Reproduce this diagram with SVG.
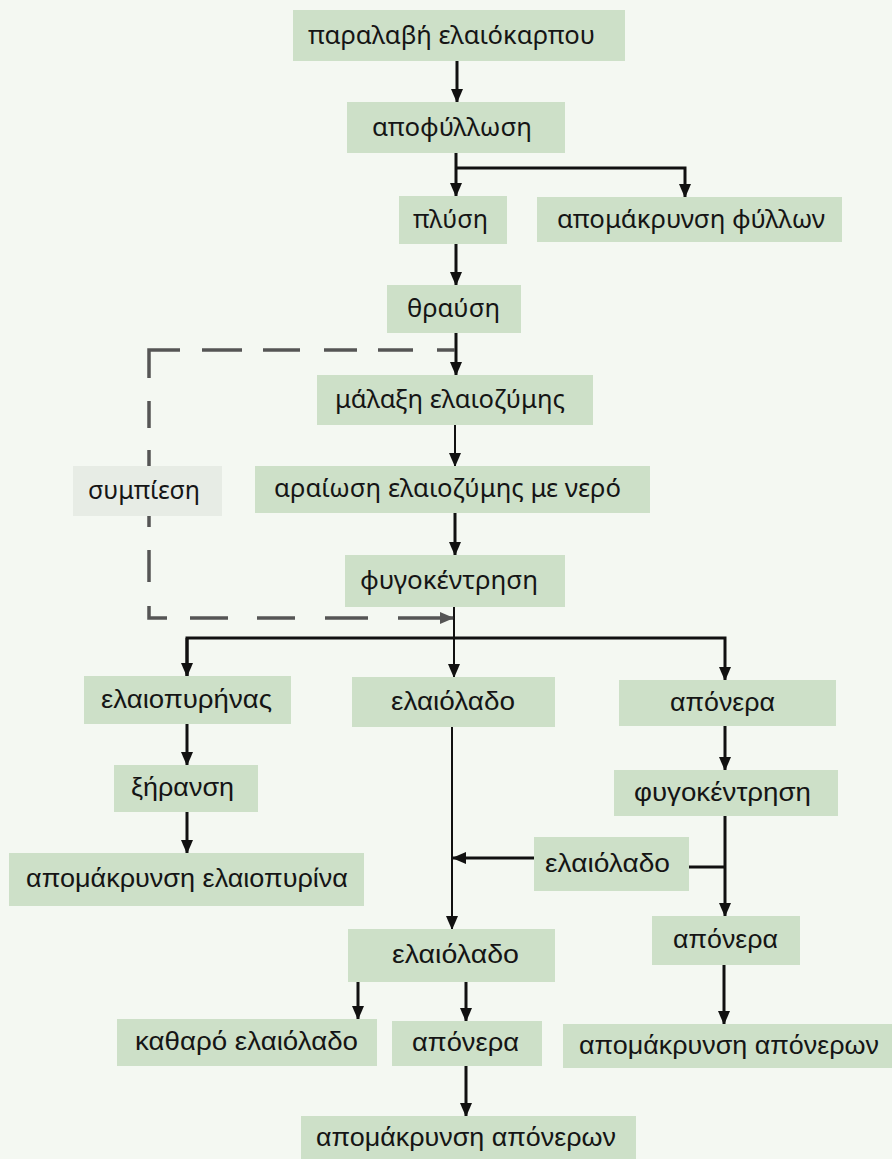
<svg xmlns="http://www.w3.org/2000/svg" width="892" height="1159" viewBox="0 0 892 1159">
<style>
.bg{fill:#f4f8f2}
.box{fill:#cde0c8}
.box2{fill:#e7ece5}
.t{font-family:"Noto Sans","Open Sans",sans-serif;font-size:25px;fill:#151515;text-anchor:middle}
.c{font-family:"Liberation Sans","Arial",sans-serif;font-size:26px;fill:#151515;text-anchor:middle}
.ln{stroke:#111;stroke-width:3;fill:none}
.thin{stroke:#111;stroke-width:2;fill:none}
.dash{stroke:#555;stroke-width:3.5;fill:none}
</style>
<defs>
<marker id="ah" markerUnits="userSpaceOnUse" markerWidth="14" markerHeight="12" refX="13" refY="6" orient="auto">
<path d="M0,0 L14,6 L0,12 z" fill="#111"/>
</marker>
<marker id="ahg" markerUnits="userSpaceOnUse" markerWidth="14" markerHeight="12" refX="13" refY="6" orient="auto">
<path d="M0,0 L14,6 L0,12 z" fill="#555"/>
</marker>
</defs>
<rect class="bg" x="0" y="0" width="892" height="1159"/>
<g id="connectors">
<path class="ln" d="M457,61 V102" marker-end="url(#ah)"/>
<path class="ln" d="M456,153 V196" marker-end="url(#ah)"/>
<path class="ln" d="M456,168 H685 V197" marker-end="url(#ah)"/>
<path class="ln" d="M456,244 V285" marker-end="url(#ah)"/>
<path class="ln" d="M456,333 V375" marker-end="url(#ah)"/>
<path class="thin" d="M455,425 V466" marker-end="url(#ah)"/>
<path class="ln" d="M455,513 V555" marker-end="url(#ah)"/>
<path class="thin" d="M454,607 V677" marker-end="url(#ah)"/>
<path class="ln" d="M187,676 V638 H725 V680" marker-end="url(#ah)"/>
<path class="ln" d="M187,638 V676" marker-end="url(#ah)"/>
<path class="ln" d="M187,724 V765" marker-end="url(#ah)"/>
<path class="ln" d="M725,726 V770" marker-end="url(#ah)"/>
<path class="thin" d="M452,727 V929" marker-end="url(#ah)"/>
<path class="ln" d="M187,812 V853" marker-end="url(#ah)"/>
<path class="ln" d="M725,816 V916" marker-end="url(#ah)"/>
<path class="ln" d="M689,867 H725"/>
<path class="ln" d="M534,858 H453" marker-end="url(#ah)"/>
<path class="ln" d="M724,965 V1024" marker-end="url(#ah)"/>
<path class="ln" d="M358,982 V1019" marker-end="url(#ah)"/>
<path class="ln" d="M466,982 V1021" marker-end="url(#ah)"/>
<path class="ln" d="M466,1066 V1116" marker-end="url(#ah)"/>
<g id="press">
<path class="dash" d="M149,378 V350 H180"/>
<path class="dash" d="M202,350 H242 M263,350 H300 M324,350 H357 M378,350 H413 M437,350 H455"/>
<path class="dash" d="M149,401 V428 M149,450 V466 M149,516 V527 M149,550 V582"/>
<path class="dash" d="M149,606 V618 H167 M190,618 H228 M257,618 H295 M325,618 H368"/>
<path class="dash" d="M398,618 H453" marker-end="url(#ahg)"/>
</g>
</g>
<g id="n1"><rect class="box" x="293" y="10" width="332" height="51"/><text class="t" x="451.5" y="44" textLength="287" lengthAdjust="spacingAndGlyphs">παραλαβή ελαιόκαρπου</text></g>
<g id="n2"><rect class="box" x="347" y="102" width="218" height="51"/><text class="t" x="452" y="136" textLength="160" lengthAdjust="spacingAndGlyphs">αποφύλλωση</text></g>
<g id="n3"><rect class="box" x="399" y="196" width="108" height="48"/><text class="t" x="450.5" y="228" textLength="75" lengthAdjust="spacingAndGlyphs">πλύση</text></g>
<g id="n4"><rect class="box" x="537" y="197" width="305" height="45"/><text class="t" x="691" y="228" textLength="268" lengthAdjust="spacingAndGlyphs">απομάκρυνση φύλλων</text></g>
<g id="n5"><rect class="box" x="387" y="285" width="134" height="48"/><text class="t" x="453.5" y="317" textLength="93" lengthAdjust="spacingAndGlyphs">θραύση</text></g>
<g id="n6"><rect class="box" x="317" y="375" width="276" height="50"/><text class="t" x="450" y="408" textLength="230" lengthAdjust="spacingAndGlyphs">μάλαξη ελαιοζύμης</text></g>
<g id="n7"><rect class="box" x="255" y="466" width="395" height="47"/><text class="t" x="447.5" y="497" textLength="347" lengthAdjust="spacingAndGlyphs">αραίωση ελαιοζύμης με νερό</text></g>
<g id="n8"><rect class="box" x="345" y="555" width="220" height="52"/><text class="t" x="449" y="589" textLength="178" lengthAdjust="spacingAndGlyphs">φυγοκέντρηση</text></g>
<g id="n9"><rect class="box2" x="73" y="466" width="149" height="50"/><text class="t" x="144" y="499" textLength="112" lengthAdjust="spacingAndGlyphs">συμπίεση</text></g>
<g id="n10"><rect class="box" x="84" y="676" width="207" height="48"/><text class="c" x="186.5" y="708" textLength="171" lengthAdjust="spacingAndGlyphs">ελαιοπυρήνας</text></g>
<g id="n11"><rect class="box" x="352" y="677" width="203" height="50"/><text class="c" x="453" y="710" textLength="124" lengthAdjust="spacingAndGlyphs">ελαιόλαδο</text></g>
<g id="n12"><rect class="box" x="619" y="680" width="217" height="46"/><text class="c" x="722.5" y="711" textLength="105" lengthAdjust="spacingAndGlyphs">απόνερα</text></g>
<g id="n13"><rect class="box" x="114" y="765" width="144" height="47"/><text class="c" x="182.5" y="796" textLength="103" lengthAdjust="spacingAndGlyphs">ξήρανση</text></g>
<g id="n14"><rect class="box" x="614" y="770" width="224" height="46"/><text class="c" x="722.5" y="801" textLength="177" lengthAdjust="spacingAndGlyphs">φυγοκέντρηση</text></g>
<g id="n15"><rect class="box" x="9" y="853" width="355" height="53"/><text class="c" x="187" y="887" textLength="322" lengthAdjust="spacingAndGlyphs">απομάκρυνση ελαιοπυρίνα</text></g>
<g id="n16"><rect class="box" x="534" y="837" width="155" height="54"/><text class="c" x="607.5" y="872" textLength="125" lengthAdjust="spacingAndGlyphs">ελαιόλαδο</text></g>
<g id="n17"><rect class="box" x="652" y="916" width="148" height="49"/><text class="c" x="725.5" y="948" textLength="105" lengthAdjust="spacingAndGlyphs">απόνερα</text></g>
<g id="n18"><rect class="box" x="563" y="1024" width="329" height="44"/><text class="c" x="729" y="1054" textLength="300" lengthAdjust="spacingAndGlyphs">απομάκρυνση απόνερων</text></g>
<g id="n19"><rect class="box" x="348" y="929" width="207" height="53"/><text class="c" x="455.5" y="963" textLength="127" lengthAdjust="spacingAndGlyphs">ελαιόλαδο</text></g>
<g id="n20"><rect class="box" x="117" y="1019" width="260" height="47"/><text class="c" x="246.5" y="1050" textLength="223" lengthAdjust="spacingAndGlyphs">καθαρό ελαιόλαδο</text></g>
<g id="n21"><rect class="box" x="392" y="1021" width="150" height="45"/><text class="c" x="465.5" y="1051" textLength="107" lengthAdjust="spacingAndGlyphs">απόνερα</text></g>
<g id="n22"><rect class="box" x="301" y="1116" width="335" height="43"/><text class="c" x="466" y="1146" textLength="300" lengthAdjust="spacingAndGlyphs">απομάκρυνση απόνερων</text></g>
</svg>
